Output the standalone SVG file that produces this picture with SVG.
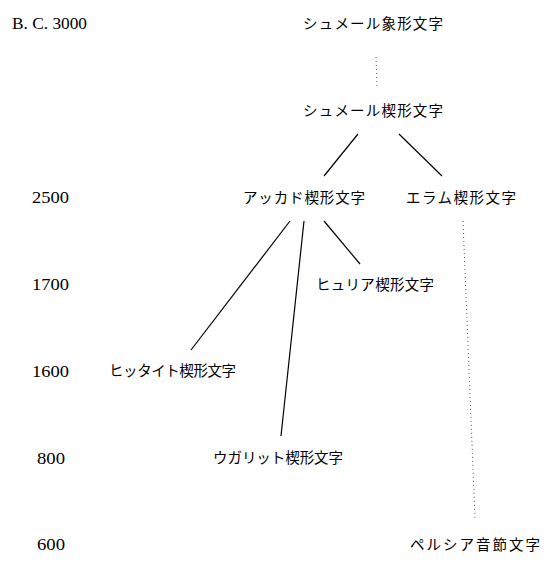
<svg xmlns="http://www.w3.org/2000/svg" width="546" height="571" viewBox="0 0 546 571">
<style>
.jp{font-family:"Noto Sans CJK JP","Noto Sans CJK SC",sans-serif;font-size:14.5px;fill:#000}
.yr{font-family:"Liberation Serif",serif;font-size:16px;fill:#000}
.ln{stroke:#000;stroke-width:1.2;fill:none}
.dt{stroke:#555;stroke-width:1;stroke-dasharray:1 3;fill:none}
</style>
<rect width="546" height="571" fill="#fff"/>
<g id="years">
<text class="yr" x="12" y="29" textLength="75" lengthAdjust="spacingAndGlyphs">B. C. 3000</text>
<text class="yr" x="32" y="203" textLength="37" lengthAdjust="spacingAndGlyphs">2500</text>
<text class="yr" x="32" y="290" textLength="37" lengthAdjust="spacingAndGlyphs">1700</text>
<text class="yr" x="32" y="377" textLength="37" lengthAdjust="spacingAndGlyphs">1600</text>
<text class="yr" x="37" y="464" textLength="28" lengthAdjust="spacingAndGlyphs">800</text>
<text class="yr" x="37" y="550" textLength="28" lengthAdjust="spacingAndGlyphs">600</text>
</g>
<g id="connectors">
<line class="dt" x1="376" y1="57" x2="377" y2="87"/>
<line class="ln" x1="358" y1="134" x2="324" y2="176"/>
<line class="ln" x1="399" y1="134" x2="442" y2="176"/>
<line class="ln" x1="290" y1="221" x2="191" y2="350"/>
<line class="ln" x1="304" y1="221" x2="281" y2="436"/>
<line class="ln" x1="324" y1="221" x2="360" y2="264"/>
<line class="dt" x1="463" y1="221" x2="475" y2="518"/>
</g>
<g id="n1"><text class="jp" x="303" y="29" textLength="140">シュメール象形文字</text></g>
<g id="n2"><text class="jp" x="303" y="116" textLength="140">シュメール楔形文字</text></g>
<g id="n3"><text class="jp" x="243" y="203" textLength="122">アッカド楔形文字</text></g>
<g id="n4"><text class="jp" x="406" y="203" textLength="110">エラム楔形文字</text></g>
<g id="n5"><text class="jp" x="316" y="290" textLength="118">ヒュリア楔形文字</text></g>
<g id="n6"><text class="jp" x="109" y="376" textLength="127">ヒッタイト楔形文字</text></g>
<g id="n7"><text class="jp" x="213" y="463" textLength="130">ウガリット楔形文字</text></g>
<g id="n8"><text class="jp" x="410" y="550" textLength="130">ペルシア音節文字</text></g>
</svg>
